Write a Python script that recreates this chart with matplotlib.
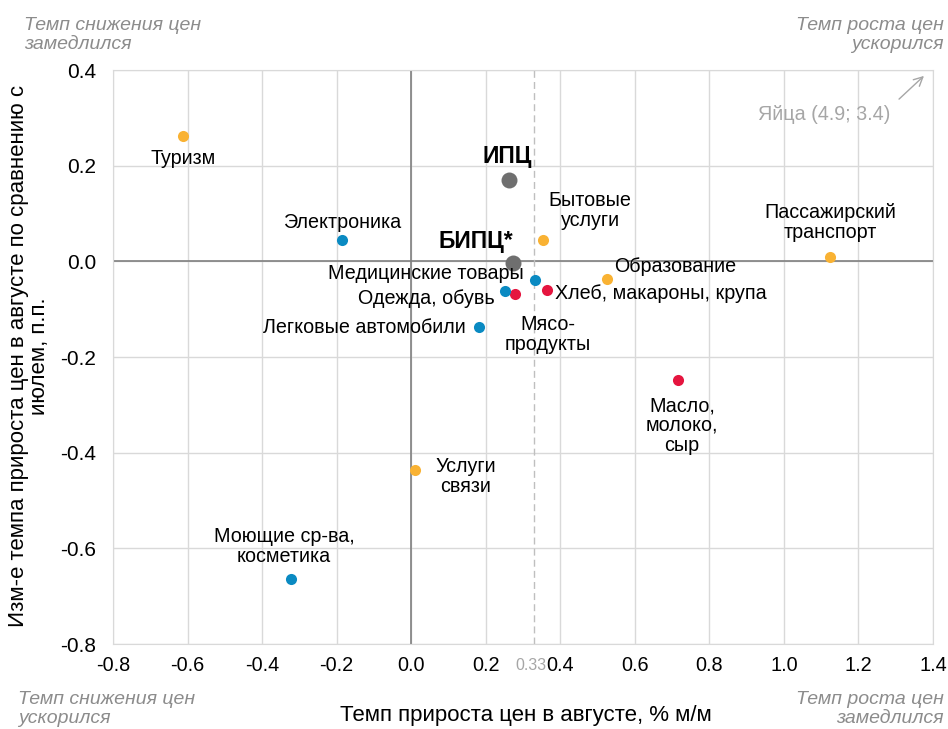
import matplotlib
matplotlib.use("Agg")
import matplotlib.pyplot as plt

plt.rcParams['font.family'] = ['Liberation Sans', 'DejaVu Sans']

# data
labels = ['Туризм', 'ИПЦ', 'БИПЦ*', 'Электроника', 'Бытовые\nуслуги', 'Пассажирский\nтранспорт',
          'Образование', 'Медицинские товары', 'Хлеб, макароны, крупа', 'Мясо-\nпродукты',
          'Одежда, обувь', 'Легковые автомобили', 'Масло,\nмолоко,\nсыр', 'Услуги\nсвязи',
          'Моющие ср-ва,\nкосметика']
xs = [-0.612, 0.263, 0.274, -0.185, 0.354, 1.124, 0.526, 0.333, 0.365, 0.279, 0.252, 0.182, 0.716, 0.011, -0.322]
ys = [0.261, 0.171, -0.004, 0.044, 0.044, 0.010, -0.036, -0.038, -0.059, -0.069, -0.063, -0.138, -0.249, -0.437, -0.665]
groups = ['serv', 'total', 'total', 'nonfood', 'serv', 'serv', 'serv', 'nonfood', 'food', 'food',
          'nonfood', 'nonfood', 'food', 'serv', 'nonfood']
xticks = [-0.8, -0.6, -0.4, -0.2, 0.0, 0.2, 0.4, 0.6, 0.8, 1.0, 1.2, 1.4]
yticks = [-0.8, -0.6, -0.4, -0.2, 0.0, 0.2, 0.4]
ref_x = 0.33

colors = {'serv': '#F9B233', 'nonfood': '#0A8AC2', 'food': '#E5153F', 'total': '#6F6F6F'}

# label offsets in pixels (dx, dy), alignment
offsets = [(0, -22, 'center'), (-2, 23, 'center'), (0, 22, 'right'), (0, 18, 'center'),
           (47, 30, 'center'), (0, 34, 'center'), (7, 12, 'left'), (-12, 6, 'right'),
           (8, -4, 'left'), (33, -40, 'center'), (-10, -7, 'right'), (-13, 0, 'right'),
           (4, -45, 'center'), (50, -6, 'center'), (-7, 33, 'center')]

W, H = 948, 729
fig = plt.figure(figsize=(W / 100, H / 100), dpi=100)
ax = fig.add_axes([113 / W, 1 - 644 / H, 820 / W, 574 / H])
ax.set_xlim(-0.8, 1.4)
ax.set_ylim(-0.8, 0.4)
ax.set_xticks(xticks)
ax.set_yticks(yticks)
ax.set_xticklabels([f'{t:.1f}' for t in xticks], fontsize=14.3)
ax.set_yticklabels([f'{t:.1f}' for t in yticks], fontsize=15)
ax.tick_params(axis='x', length=0, pad=8.5)
ax.tick_params(axis='y', length=0, pad=12)
ax.grid(True, color='#D9D9D9', lw=1)
ax.set_axisbelow(True)
for s in ax.spines.values():
    s.set_color('#D9D9D9')
ax.axhline(0, color='#7F7F7F', lw=1.2, zorder=1)
ax.axvline(0, color='#7F7F7F', lw=1.2, zorder=1)
ax.axvline(ref_x, color='#BFBFBF', lw=1, ls=(0, (5, 3)), zorder=1)
ax.annotate(f'{ref_x:.2f}', (ref_x, -0.8), xytext=(-2, -10), textcoords='offset points',
            ha='center', va='top', fontsize=11.5, color='#A6A6A6')

for x, y, g, lab, (dx, dy, ha) in zip(xs, ys, groups, labels, offsets):
    big = g == 'total'
    ax.scatter([x], [y], s=(11.5 if big else 8) ** 2, color=colors[g], zorder=3, linewidths=0)
    ax.annotate(lab, (x, y), xytext=(dx * 0.72, dy * 0.72), textcoords='offset points',
                ha=ha, va='center', fontsize=16.5 if big else 14.2,
                fontweight='bold' if big else 'normal', color='black', linespacing=1.05,
                multialignment='center')

# eggs arrow
ax.annotate('', xy=(926, H - 74), xycoords='figure pixels', xytext=(897, H - 101),
            textcoords='figure pixels',
            arrowprops=dict(arrowstyle='->', color='#A6A6A6', lw=1, mutation_scale=16))
fig.text(824 / W, 1 - 114 / H, 'Яйца (4.9; 3.4)', ha='center', va='center', fontsize=14.2, color='#A6A6A6')

fig.text(526 / W, 1 - 716 / H, 'Темп прироста цен в августе, % м/м', ha='center', va='center', fontsize=16)
fig.text(29 / W, 1 - 356 / H, 'Изм-е темпа прироста цен в августе по сравнению с\nиюлем, п.п.',
         rotation=90, ha='center', va='center', fontsize=16, linespacing=1.0)

corner = dict(fontsize=14, style='italic', color='#8C8C8C', linespacing=1.15)
fig.text(24 / W, 1 - 35 / H, 'Темп снижения цен\nзамедлился', ha='left', va='center', **corner)
fig.text(944 / W, 1 - 35 / H, 'Темп роста цен\nускорился', ha='right', va='center', multialignment='right', **corner)
fig.text(18 / W, 1 - 709 / H, 'Темп снижения цен\nускорился', ha='left', va='center', **corner)
fig.text(944 / W, 1 - 709 / H, 'Темп роста цен\nзамедлился', ha='right', va='center', multialignment='right', **corner)

fig.savefig('out.png', dpi=100)
